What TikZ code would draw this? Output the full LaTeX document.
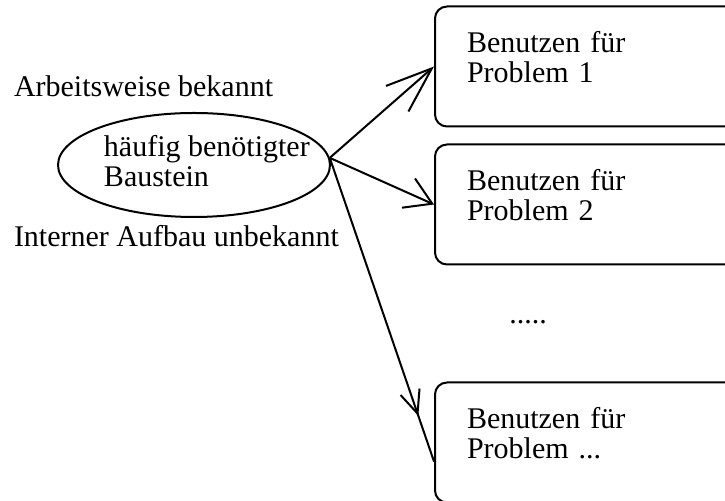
\documentclass[tikz,border=0pt]{standalone}
\usepackage{fontspec}
\setmainfont{Liberation Serif}
\usepackage{tikz}
\usetikzlibrary{arrows.meta, shapes.geometric, positioning, decorations.markings}

\begin{document}
\begin{tikzpicture}[x=0.5pt, y=-0.5pt, >={Straight Barb[length=13pt, width=16pt]}, line width=1pt]
\tikzstyle{every node}=[font=\fontsize{15}{15}\selectfont]
\tikzstyle{kasten}=[draw, rounded corners=6pt, inner xsep=16pt, inner ysep=0pt, text width=131pt, align=left, text height=23pt, text depth=37pt, anchor=west]
\tikzstyle{schrift}=[inner sep=0pt, align=left]

\useasboundingbox (0,0) rectangle (725,501);
\clip (0,0) rectangle (725,501);

\node[ellipse, draw, minimum width=136pt, minimum height=52pt, inner sep=0pt] (bst) at (194,165) {};
\node[schrift, anchor=base west] (bsttext) at (103,187) {häufig benötigter\\Baustein};
\node[schrift, anchor=base west] (bekannt) at (13,97) {Arbeitsweise bekannt};
\node[schrift, anchor=base west] (unbekannt) at (13,247) {Interner Aufbau unbekannt};

\node[kasten] (p1) at (434,66.5) {Benutzen für\\Problem 1};
\node[kasten] (p2) [below=8pt of p1] {Benutzen für\\Problem 2};
\node[schrift, anchor=base] (dots) at (528,324) {.....};
\node[kasten] (p3) [below=58pt of p2] {Benutzen für\\Problem ...};

\draw[-{Straight Barb[length=23pt, width=17pt]}] (bst.3) -- (p1.west);
\draw[->] (bst.3) -- (p2.west);
\draw[postaction={decorate}, decoration={markings, mark=at position 0.85 with {\arrow{Straight Barb[length=11.5pt, width=10pt]}}}] (bst.3) -- ([yshift=-9.5pt]p3.west);
\end{tikzpicture}
\end{document}
